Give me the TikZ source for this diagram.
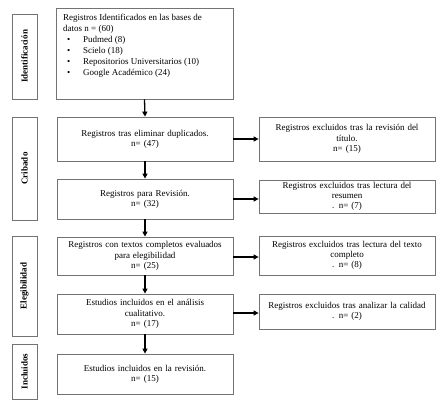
\documentclass[tikz,border=0pt]{standalone}
\usepackage{fontspec}
\setmainfont{Liberation Serif}
\usetikzlibrary{arrows.meta,calc}
\begin{document}
\begin{tikzpicture}[x=1pt,y=-1pt,
  box/.style={draw=black!55, line width=0.8pt, rectangle, inner sep=1pt,
    font=\fontsize{9}{10.2}\selectfont, align=center, text width=172pt},
  lbl/.style={draw=black!55, line width=0.8pt, rectangle, inner sep=0pt,
    minimum width=25pt},
  lbltext/.style={rotate=90, font=\fontsize{9}{10}\selectfont\bfseries},
  arr/.style={line width=1.3pt, -{Triangle[length=5pt,width=5pt]}}
]
\useasboundingbox (0,0) rectangle (447,406);
\fill[white] (0,0) rectangle (447,406);

% side labels
\node[lbl, minimum height=85pt] (lid) at (24.5,56.5) {};
\node[lbltext] (tid) at (lid.center) {Identificación};
\node[lbl, minimum height=103pt] (lcr) at (24.5,168.5) {};
\node[lbltext] (tcr) at (lcr.center) {Cribado};
\node[lbl, minimum height=100pt] (lel) at (24.5,286) {};
\node[lbltext] (tel) at (lel.center) {Elegibilidad};
\node[lbl, minimum height=55pt] (lin) at (24.5,371.5) {};
\node[lbltext] (tin) at (lin.center) {Incluidos};

% main column
\node[box, minimum width=177pt, minimum height=91pt] (b1) at (144.5,53.5) {};
\node[anchor=north west, inner sep=0pt, align=left,
  font=\fontsize{9}{11}\selectfont] (t1) at (63,14)
  {Registros Identificados en las bases de\\
   datos n = (60)\\
   \makebox[20pt][l]{\hspace{4pt}\textbullet}Pudmed (8)\\
   \makebox[20pt][l]{\hspace{4pt}\textbullet}Scielo (18)\\
   \makebox[20pt][l]{\hspace{4pt}\textbullet}Repositorios Universitarios (10)\\
   \makebox[20pt][l]{\hspace{4pt}\textbullet}Google Académico (24)};

\node[box, minimum width=176pt, minimum height=44pt] (b2) at (145,139)
  {Registros tras eliminar duplicados.\\n= (47)};
\node[box, minimum width=176pt, minimum height=40pt] (b3) at (145,199)
  {Registros para Revisión.\\n= (32)};
\node[box, minimum width=176pt, minimum height=38pt] (b4) at (145,256)
  {Registros con textos completos evaluados\\para elegibilidad\\n= (25)};
\node[box, minimum width=176pt, minimum height=40pt] (b5) at (145,314)
  {Estudios incluidos en el análisis\\cualitativo.\\n= (17)};
\node[box, minimum width=176pt, minimum height=40pt] (b6) at (145,374)
  {Estudios incluidos en la revisión.\\n= (15)};

% right column
\node[box, minimum width=176pt, minimum height=44pt] (r1) at (347,139)
  {Registros excluidos tras la revisión del\\título.\\n= (15)};
\node[box, minimum width=176pt, minimum height=33pt] (r2) at (347,196.5)
  {Registros excluidos tras lectura del\\resumen\\. n= (7)};
\node[box, minimum width=176pt, minimum height=39pt] (r3) at (347,255.5)
  {Registros excluidos tras lectura del texto\\completo\\. n= (8)};
\node[box, minimum width=176pt, minimum height=35pt] (r4) at (347,311.5)
  {Registros excluidos tras analizar la calidad\\. n= (2)};

% vertical arrows
\draw[arr] (b1.south) -- (b2.north);
\draw[arr] (b2.south) -- (b3.north);
\draw[arr] (b3.south) -- (b4.north);
\draw[arr] (b4.south) -- (b5.north);
\draw[arr] (b5.south) -- (b6.north);

% horizontal arrows
\draw[arr] (b2.east) -- (r1.west);
\draw[arr] (b3.east) -- (b3.east -| r2.west);
\draw[arr] ($(b4.east)+(0,1)$) -- ($(b4.east -| r3.west)+(0,1)$);
\draw[arr] ($(b5.east)+(0,-1)$) -- ($(b5.east -| r4.west)+(0,-1)$);
\end{tikzpicture}
\end{document}
